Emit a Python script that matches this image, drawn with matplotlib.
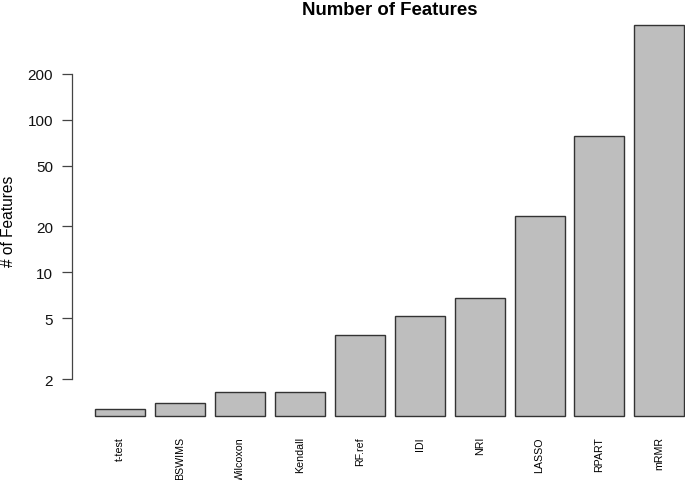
import numpy as np
import matplotlib
matplotlib.use('Agg')
import matplotlib.pyplot as plt

# feature counts per method
methods = ['t-test', 'BSWIMS', 'Wilcoxon', 'Kendall', 'RF.ref', 'IDI', 'NRI', 'LASSO', 'RPART', 'mRMR']
n_features = [1.27, 1.39, 1.66, 1.66, 3.9, 5.15, 6.8, 23.4, 77.7, 414]
y_ticks = [2, 5, 10, 20, 50, 100, 200]

plt.rcParams['font.family'] = ['Liberation Sans', 'DejaVu Sans']

heights = np.array(n_features)
base = 0.9 * heights.min()   # R barplot log base
centers = 0.7 + 1.2 * np.arange(len(methods))

fig = plt.figure(figsize=(6.85, 4.81), dpi=100)
ax = fig.add_axes([0.1047, 0.1000, 0.9287, 0.8778])

ax.bar(centers, heights - base, bottom=base, width=1.0,
       color='#bebebe', edgecolor='#333333', linewidth=1.0)

ax.set_yscale('log')
lo, hi = np.log10(base), np.log10(heights.max())
pad = 0.04 * (hi - lo)
ax.set_ylim(10 ** (lo - pad), 10 ** (hi + pad))
ax.set_xlim(0.2 - 0.472, 12 + 0.472)

ax.set_yticks(y_ticks)
ax.set_yticklabels([str(t) for t in y_ticks], fontsize=11)
ax.yaxis.set_minor_locator(matplotlib.ticker.NullLocator())
ax.tick_params(axis='y', length=7, width=0.9, color='#444444', pad=6.5, labelcolor='#111111')

ax.set_xticks(centers)
ax.set_xticklabels(methods, rotation=90, fontsize=7.7, va='top')
ax.tick_params(axis='x', length=0, pad=3)

for s in ['top', 'right', 'bottom']:
    ax.spines[s].set_visible(False)
ax.spines['left'].set_bounds(2, 200)
ax.spines['left'].set_color('#444444')
ax.spines['left'].set_linewidth(0.9)

ax.set_ylabel('# of Features', fontsize=11.2)
ax.yaxis.set_label_coords((8 - 71.7) / 636.2, 0.5)
ax.yaxis.label.set_va('center')

fig.text((71.7 + 707.9) / 2 / 685, 1 - 15 / 481, 'Number of Features',
         ha='center', va='baseline', fontsize=13.4, fontweight='bold')

fig.savefig('out.png', dpi=100)
